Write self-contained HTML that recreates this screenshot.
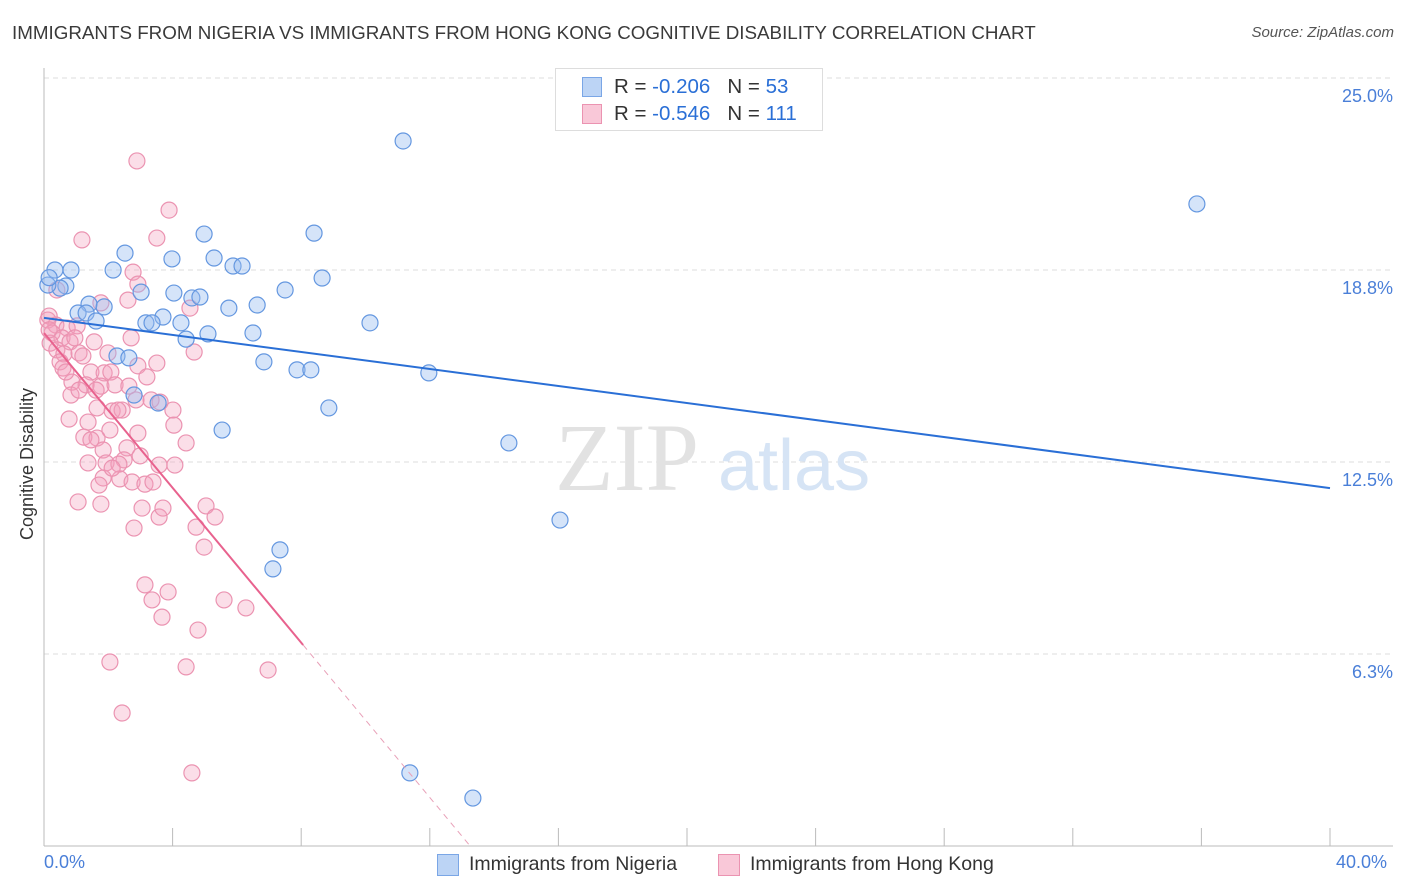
<!DOCTYPE html>
<html><head><meta charset="utf-8"><style>
body{margin:0;background:#fff;font-family:"Liberation Sans",sans-serif;}
#wrap{position:relative;width:1406px;height:892px;overflow:hidden;}
.t{position:absolute;white-space:nowrap;}
</style></head><body>
<div id="wrap">
<div class="t" style="left:12px;top:22px;font-size:18.8px;color:#3a3a3a;">IMMIGRANTS FROM NIGERIA VS IMMIGRANTS FROM HONG KONG COGNITIVE DISABILITY CORRELATION CHART</div>
<div class="t" style="right:12px;top:24px;font-size:15px;color:#555;font-style:italic;">Source: ZipAtlas.com</div>
<svg id="svg" width="1406" height="892" style="position:absolute;left:0;top:0"></svg>
</div>
<script>
const blueX=[11.17,35.86,4.98,8.40,2.52,3.98,5.29,5.88,6.16,2.15,0.34,0.84,8.65,0.68,0.50,0.12,3.02,4.04,4.60,4.85,7.50,6.63,5.75,1.40,1.87,1.06,1.31,3.70,3.17,3.36,4.26,1.62,10.14,5.10,6.50,4.42,2.27,2.64,6.84,7.87,8.30,11.97,2.80,3.55,8.86,5.54,14.46,16.05,7.34,7.12,11.38,13.34,0.16];
const blueY=[22.95,20.9,19.92,19.95,19.30,19.11,19.14,18.88,18.88,18.75,18.75,18.75,18.49,18.23,18.16,18.26,18.03,18.0,17.84,17.87,18.10,17.61,17.51,17.64,17.55,17.35,17.35,17.22,17.03,17.03,17.03,17.09,17.03,16.67,16.70,16.5,15.95,15.89,15.76,15.5,15.5,15.40,14.68,14.42,14.26,13.54,13.12,10.61,9.64,9.02,2.38,1.56,18.5];
const pinkX=[2.89,3.89,1.18,3.51,2.77,2.92,2.61,1.77,4.54,0.12,0.37,0.72,1.03,0.25,0.56,0.19,0.81,0.40,0.62,1.09,4.67,2.71,1.21,0.50,0.59,1.46,1.87,2.08,2.92,3.20,0.87,1.31,1.77,2.21,2.64,3.51,0.84,1.09,1.62,3.33,3.61,2.12,2.43,1.65,2.30,4.01,0.78,1.37,2.05,4.04,1.24,1.65,2.92,4.42,2.58,1.46,1.84,2.99,2.49,1.37,1.93,2.33,3.58,4.07,1.84,2.36,1.71,2.74,3.14,3.39,1.06,1.77,3.05,5.04,3.58,5.32,2.80,4.73,4.98,3.14,3.36,3.86,3.67,5.60,6.28,4.79,2.05,4.42,6.97,2.43,4.60,0.16,0.16,0.96,0.68,1.56,1.99,2.86,2.12,3.70,0.40];
const pinkY=[22.30,20.70,19.73,19.79,18.68,18.29,17.77,17.68,17.51,17.12,16.96,16.86,16.93,16.70,16.54,16.37,16.41,16.15,16.02,16.05,16.08,16.54,15.95,15.76,15.56,15.43,15.40,15.43,15.63,15.27,15.10,15.01,14.97,15.01,14.97,15.72,14.68,14.84,14.84,14.52,14.45,14.16,14.19,14.26,14.19,14.19,13.90,13.80,13.54,13.70,13.31,13.28,13.44,13.12,12.96,13.22,12.89,12.70,12.57,12.47,12.47,12.43,12.40,12.40,11.98,11.95,11.75,11.85,11.78,11.85,11.20,11.13,11.00,11.07,10.71,10.71,10.35,10.38,9.73,8.50,8.01,8.27,7.45,8.01,7.75,7.03,5.99,5.83,5.73,4.33,2.38,17.25,16.80,16.54,15.43,16.41,16.05,14.52,12.30,11.00,18.10];
const yTicks=[6.25,12.5,18.75,25];
const yTickLabels=["6.3%","12.5%","18.8%","25.0%"];
const blueTrend=[17.19,11.65];
const pinkTrend=[16.70,-1.26];
const pinkSolidEnd=8.06;

const X=v=>44+v/40*1286;
const Y=v=>846-v*30.72;
const svg=document.getElementById('svg');
const NS='http://www.w3.org/2000/svg';
function mk(tag,attrs,parent){const e=document.createElementNS(NS,tag);for(const k in attrs)e.setAttribute(k,attrs[k]);(parent||svg).appendChild(e);return e;}

yTicks.forEach((v,i)=>{
  const g=mk('line',{x1:44,x2:1393,y1:Y(v),y2:Y(v),stroke:'#dedede','stroke-dasharray':'5,4'});
  
  
  const t=mk('text',{x:1393,y:Y(v)+24,'text-anchor':'end','font-size':18,fill:'#4a7fd8','font-family':'Liberation Sans, sans-serif'});
  t.textContent=yTickLabels[i];
  
  
});
const ax=mk('line',{x1:44,x2:44,y1:68,y2:846,stroke:'#bbb'});


const bx=mk('line',{x1:44,x2:1393,y1:846,y2:846,stroke:'#bbb'});


for(let i=0;i<=10;i++){
  const tk=mk('line',{x1:X(i*4),x2:X(i*4),y1:828,y2:846,stroke:'#bbb'});
  
  
}
const wm=mk('text',{x:555,y:490,'font-size':96,fill:'#e2e2e2','font-family':'Liberation Serif, serif'});
wm.textContent='ZIP';


const wm2=mk('text',{x:718,y:490,'font-size':72,fill:'#d6e4f5','font-family':'Liberation Sans, sans-serif'});
wm2.textContent='atlas';



pinkX.forEach((x,i)=>{
  const c=mk('circle',{cx:X(x),cy:Y(pinkY[i]),r:8,fill:'rgba(244,160,188,0.35)',stroke:'#eb93b1','stroke-width':1.2});
  
  
});
blueX.forEach((x,i)=>{
  const c=mk('circle',{cx:X(x),cy:Y(blueY[i]),r:8,fill:'rgba(150,188,240,0.4)',stroke:'#6497e0','stroke-width':1.2});
  
  
});
const bl=mk('line',{x1:X(0),y1:Y(blueTrend[0]),x2:X(40),y2:Y(blueTrend[1]),stroke:'#2a6fd6','stroke-width':2});


const pe=pinkTrend[0]+pinkTrend[1]*pinkSolidEnd;
const pl=mk('line',{x1:X(0),y1:Y(pinkTrend[0]),x2:X(pinkSolidEnd),y2:Y(pe),stroke:'#e8628e','stroke-width':2});


const zx=-pinkTrend[0]/pinkTrend[1];
const pd=mk('line',{x1:X(pinkSolidEnd),y1:Y(pe),x2:X(zx),y2:Y(0),stroke:'#e8a0b8','stroke-width':1,'stroke-dasharray':'6,5'});


</script>
<div class="t" style="left:17px;top:540px;transform:rotate(-90deg);transform-origin:0 0;font-size:18px;color:#333;">Cognitive Disability</div>
<div class="t" style="left:44px;top:852px;font-size:18px;color:#4a7fd8;">0.0%</div>
<div class="t" style="left:1336px;top:852px;font-size:18px;color:#4a7fd8;">40.0%</div>
<div class="t" style="left:555px;top:68px;width:266px;height:61px;border:1px solid #ddd;background:#fff;">
 <div style="position:absolute;left:26px;top:8px;width:18px;height:18px;background:#bcd4f5;border:1px solid #7aa6e6;"></div>
 <div style="position:absolute;left:58px;top:6px;font-size:20.5px;color:#333;">R = <span style="color:#2a6fd6">-0.206</span>&nbsp;&nbsp;&nbsp;N = <span style="color:#2a6fd6">53</span></div>
 <div style="position:absolute;left:26px;top:35px;width:18px;height:18px;background:#f9c8d8;border:1px solid #eb93b1;"></div>
 <div style="position:absolute;left:58px;top:33px;font-size:20.5px;color:#333;">R = <span style="color:#2a6fd6">-0.546</span>&nbsp;&nbsp;&nbsp;N = <span style="color:#2a6fd6">111</span></div>
</div>
<div class="t" style="left:437px;top:854px;width:20px;height:20px;background:#bcd4f5;border:1px solid #7aa6e6;"></div>
<div class="t" style="left:469px;top:853px;font-size:19.5px;color:#333;">Immigrants from Nigeria</div>
<div class="t" style="left:718px;top:854px;width:20px;height:20px;background:#f9c8d8;border:1px solid #eb93b1;"></div>
<div class="t" style="left:750px;top:853px;font-size:19.5px;color:#333;">Immigrants from Hong Kong</div>
</body></html>
